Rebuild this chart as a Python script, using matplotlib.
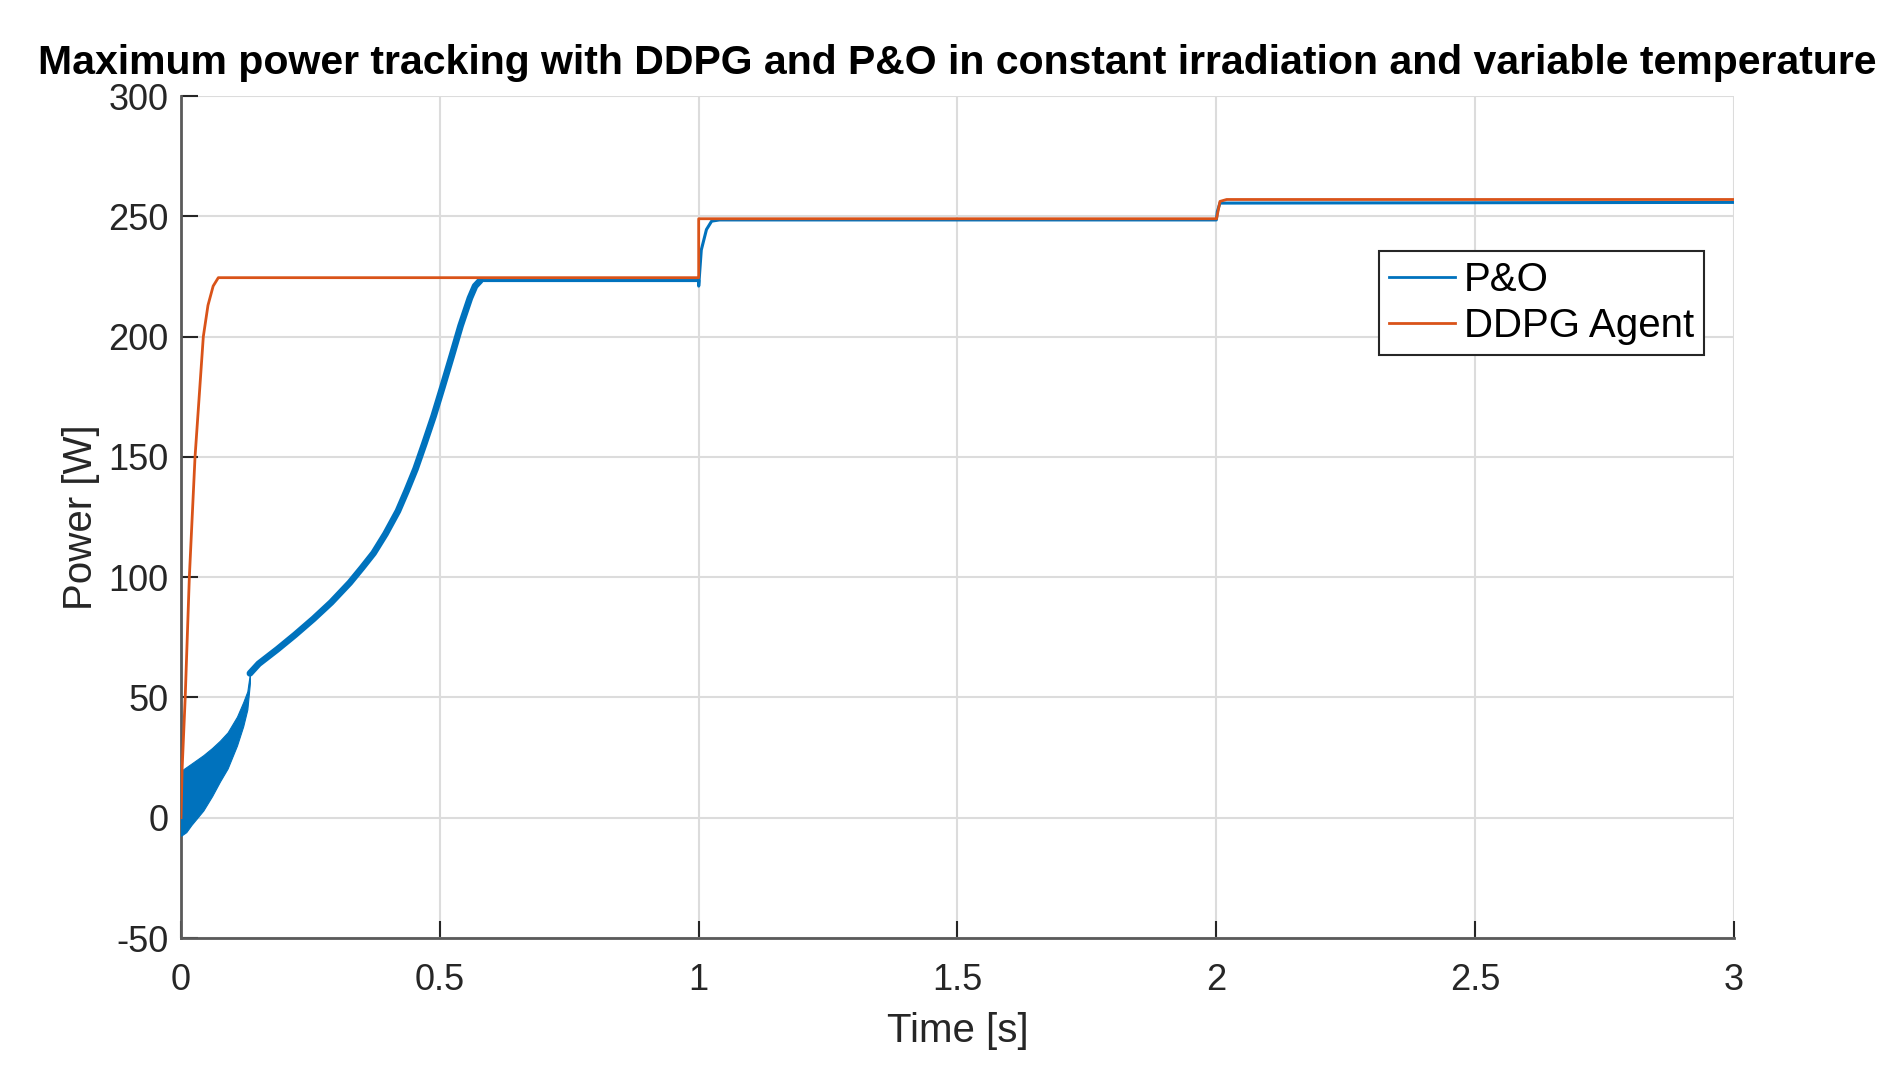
import numpy as np
import matplotlib
matplotlib.use("Agg")
import matplotlib.pyplot as plt
from matplotlib import font_manager

# values
# P&O: oscillation band at start-up (upper / lower envelope)
po_band_t = [0.0, 0.01, 0.02, 0.043, 0.06, 0.075, 0.09, 0.108, 0.12, 0.128, 0.133]
po_band_hi = [19.5, 21.0, 22.5, 26.0, 29.0, 32.0, 35.5, 42.0, 48.0, 52.5, 60.0]
po_band_lo = [-7.5, -6.0, -3.0, 3.0, 9.0, 15.0, 20.5, 30.0, 38.0, 45.0, 56.0]

# P&O: climbing part (thick because of small oscillation)
po_ramp_t = [0.133, 0.15, 0.186, 0.22, 0.256, 0.29, 0.326, 0.35, 0.372, 0.395,
             0.419, 0.436, 0.453, 0.47, 0.488, 0.505, 0.523, 0.54, 0.558, 0.568, 0.578]
po_ramp_p = [60.0, 64.0, 70.0, 76.0, 82.7, 89.5, 97.7, 104.0, 110.0, 118.0,
             127.5, 136.0, 145.0, 155.5, 167.0, 179.0, 192.0, 204.5, 216.0, 221.0, 223.3]

# P&O: steady part with the two temperature steps
po_t = [0.578, 1.0, 1.0, 1.005, 1.015, 1.025, 1.04, 2.0, 2.002, 2.007, 3.0]
po_p = [223.3, 223.3, 221.0, 236.0, 244.5, 248.0, 248.5, 248.5, 252.0, 255.5, 255.8]

# DDPG agent
ddpg_t = [0.0, 0.002, 0.008, 0.016, 0.027, 0.043, 0.052, 0.062, 0.072,
          1.0, 1.0, 2.0, 2.0005, 2.007, 2.02, 3.0]
ddpg_p = [0.0, 20.0, 50.0, 100.0, 150.0, 200.0, 213.0, 221.0, 224.5,
          224.5, 249.0, 249.0, 249.0, 256.2, 257.0, 257.0]

xticks = [0, 0.5, 1, 1.5, 2, 2.5, 3]
xticklabels = ["0", "0.5", "1", "1.5", "2", "2.5", "3"]
yticks = [-50, 0, 50, 100, 150, 200, 250, 300]

blue = "#0072BD"
red = "#D95319"

names = {f.name for f in font_manager.fontManager.ttflist}
fam = "Liberation Sans" if "Liberation Sans" in names else "DejaVu Sans"
plt.rcParams["font.family"] = fam
plt.rcParams["axes.unicode_minus"] = False

fig = plt.figure(figsize=(18.88, 10.72), dpi=100)
ax = fig.add_axes([0.0959, 0.1250, 0.8225, 0.7854])

ax.fill_between(po_band_t, po_band_lo, po_band_hi, color=blue, lw=0.8, zorder=3)
ax.plot(po_ramp_t, po_ramp_p, color=blue, lw=4.8, solid_capstyle="round", zorder=3)
ax.plot(po_t, po_p, color=blue, lw=2.2, zorder=3, label="P&O")
ax.plot(ddpg_t, ddpg_p, color=red, lw=2.0, zorder=4, label="DDPG Agent")

ax.set_xlim(0, 3)
ax.set_ylim(-50, 300)
ax.set_xticks(xticks)
ax.set_xticklabels(xticklabels)
ax.set_yticks(yticks)

ax.grid(True, color="#dcdcdc", lw=1.5)
ax.set_axisbelow(True)
for s in ["top", "right"]:
    ax.spines[s].set_visible(False)
for s in ["left", "bottom"]:
    ax.spines[s].set_color("#5a5a5a")
    ax.spines[s].set_linewidth(2.0)

ax.tick_params(axis="both", direction="in", length=12, width=1.5,
               colors="#262626", labelsize=26)
ax.tick_params(axis="x", pad=18)
ax.tick_params(axis="y", pad=9)

ax.set_xlabel("Time [s]", fontsize=29, color="#262626")
ax.set_ylabel("Power [W]", fontsize=29, color="#262626")
ax.xaxis.set_label_coords(0.5, -0.088)
ax.yaxis.set_label_coords(-0.052, 0.5)

ax.text(0.5, 1 + 22 / 842,
        "Maximum power tracking with DDPG and P&O in constant irradiation and variable temperature",
        transform=ax.transAxes, ha="center", va="baseline",
        fontsize=29.5, fontweight="bold", color="black")

leg = ax.legend(loc="upper left", bbox_to_anchor=(0.7714, 0.8163),
                fontsize=29, frameon=True, fancybox=False, borderaxespad=0,
                borderpad=0.25, labelspacing=0.2, handlelength=1.65,
                handletextpad=0.2)
leg.get_frame().set_edgecolor("#262626")
leg.get_frame().set_linewidth(1.5)
leg.get_frame().set_alpha(1)
for h in leg.get_lines():
    h.set_linewidth(2.0)

fig.savefig("out.png", dpi=100)
